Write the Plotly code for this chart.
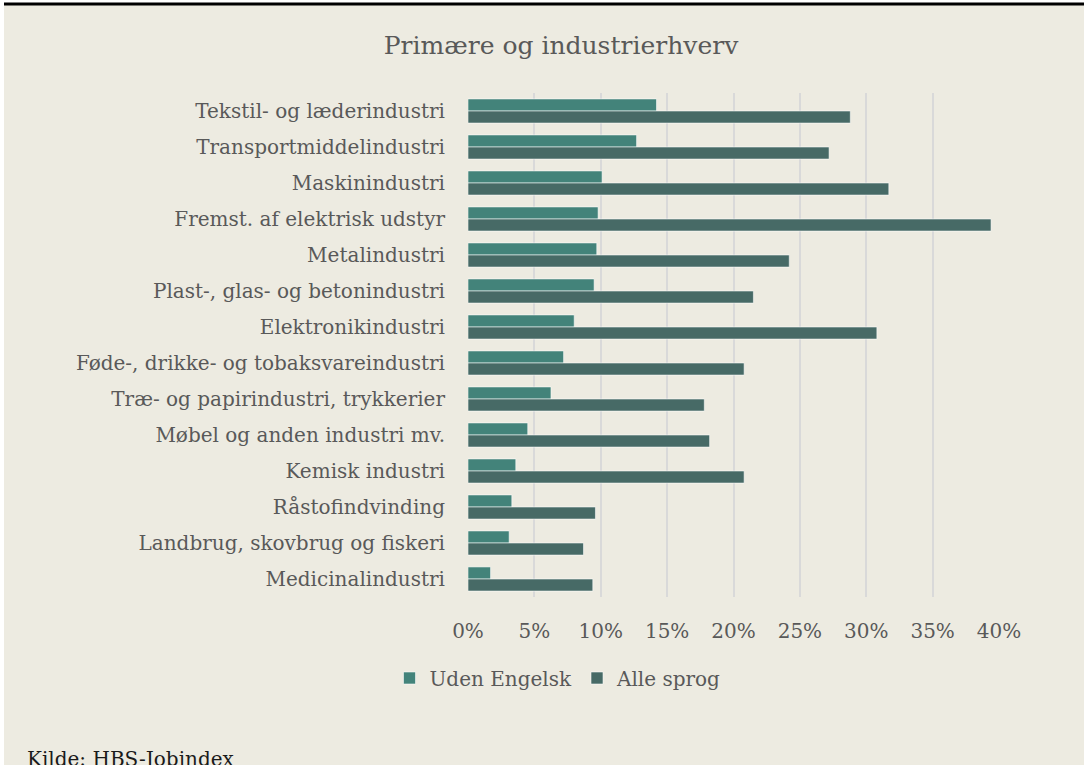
import plotly.graph_objects as go

categories = [
    "Tekstil- og læderindustri",
    "Transportmiddelindustri",
    "Maskinindustri",
    "Fremst. af elektrisk udstyr",
    "Metalindustri",
    "Plast-, glas- og betonindustri",
    "Elektronikindustri",
    "Føde-, drikke- og tobaksvareindustri",
    "Træ- og papirindustri, trykkerier",
    "Møbel og anden industri mv.",
    "Kemisk industri",
    "Råstofindvinding",
    "Landbrug, skovbrug og fiskeri",
    "Medicinalindustri",
]
uden_engelsk = [0.142, 0.127, 0.101, 0.098, 0.097, 0.095, 0.080, 0.072, 0.0625, 0.045, 0.036, 0.033, 0.031, 0.017]
alle_sprog = [0.288, 0.272, 0.317, 0.394, 0.242, 0.215, 0.308, 0.208, 0.178, 0.182, 0.208, 0.096, 0.087, 0.094]
x_ticks = [0, 0.05, 0.10, 0.15, 0.20, 0.25, 0.30, 0.35, 0.40]
x_ticklabels = ["0%", "5%", "10%", "15%", "20%", "25%", "30%", "35%", "40%"]

FONT = "DejaVu Serif"
TXT = "#595959"
BG = "#EDEBE1"
FS = 20

W, H = 1084, 765
ML, MR, MT, MB = 468, 85, 93, 168
PW, PH = W - ML - MR, H - MT - MB

def px(x):
    return (x - ML) / PW

def py(y):
    return (H - MB - y) / PH

fig = go.Figure()
fig.add_trace(go.Bar(
    y=categories, x=uden_engelsk, orientation="h", name="Uden Engelsk",
    marker=dict(color="#43837A", line=dict(color="rgba(255,255,255,0.55)", width=1)),
))
fig.add_trace(go.Bar(
    y=categories, x=alle_sprog, orientation="h", name="Alle sprog",
    marker=dict(color="#476A66", line=dict(color="rgba(255,255,255,0.55)", width=1)),
))

fig.update_layout(
    width=W, height=H,
    margin=dict(l=ML, r=MR, t=MT, b=MB, pad=0),
    paper_bgcolor=BG, plot_bgcolor=BG,
    barmode="group", bargap=0.33, bargroupgap=0,
    font=dict(family=FONT, color=TXT, size=FS),
    title=dict(text="Primære og industrierhverv", x=561 / W, xanchor="center",
               y=1 - 45 / H, yanchor="middle", yref="container",
               font=dict(family=FONT, size=25, color=TXT)),
    xaxis=dict(range=[0, 0.4], tickvals=x_ticks, ticktext=x_ticklabels,
               showgrid=True, gridcolor="#D9D9D9", gridwidth=1.5,
               zeroline=False, showline=False, ticks="", ticklabelstandoff=20,
               tickfont=dict(size=FS, color=TXT), fixedrange=True),
    yaxis=dict(range=[13.5, -0.5], showgrid=False, zeroline=False, showline=False,
               ticks="", ticklabelstandoff=22, tickfont=dict(size=FS, color=TXT)),
    legend=dict(orientation="h", xref="container", x=558 / W, xanchor="center",
                yref="container", y=1 - 678 / H, yanchor="middle",
                font=dict(size=FS, color=TXT),
                bgcolor="rgba(0,0,0,0)", itemwidth=30, traceorder="normal"),
    showlegend=True,
)

shapes = [
    dict(type="rect", xref="paper", yref="paper", x0=px(0), x1=px(4), y0=py(H), y1=py(0),
         fillcolor="white", line_width=0, layer="above"),
    dict(type="rect", xref="paper", yref="paper", x0=px(0), x1=px(W), y0=py(3), y1=py(0),
         fillcolor="white", line_width=0, layer="above"),
    dict(type="rect", xref="paper", yref="paper", x0=px(4), x1=px(W), y0=py(5.5), y1=py(2.5),
         fillcolor="black", line_width=0, layer="above"),
]
fig.update_layout(shapes=shapes)

fig.add_annotation(text="Kilde: HBS-Jobindex", xref="paper", yref="paper",
                   x=px(25), y=py(745), xanchor="left", yanchor="top",
                   showarrow=False, font=dict(family=FONT, size=FS, color="#1a1a1a"))

fig.write_html("out.html", config={"displayModeBar": False},
               post_script="document.body.style.margin='0';document.body.style.overflow='hidden';")
